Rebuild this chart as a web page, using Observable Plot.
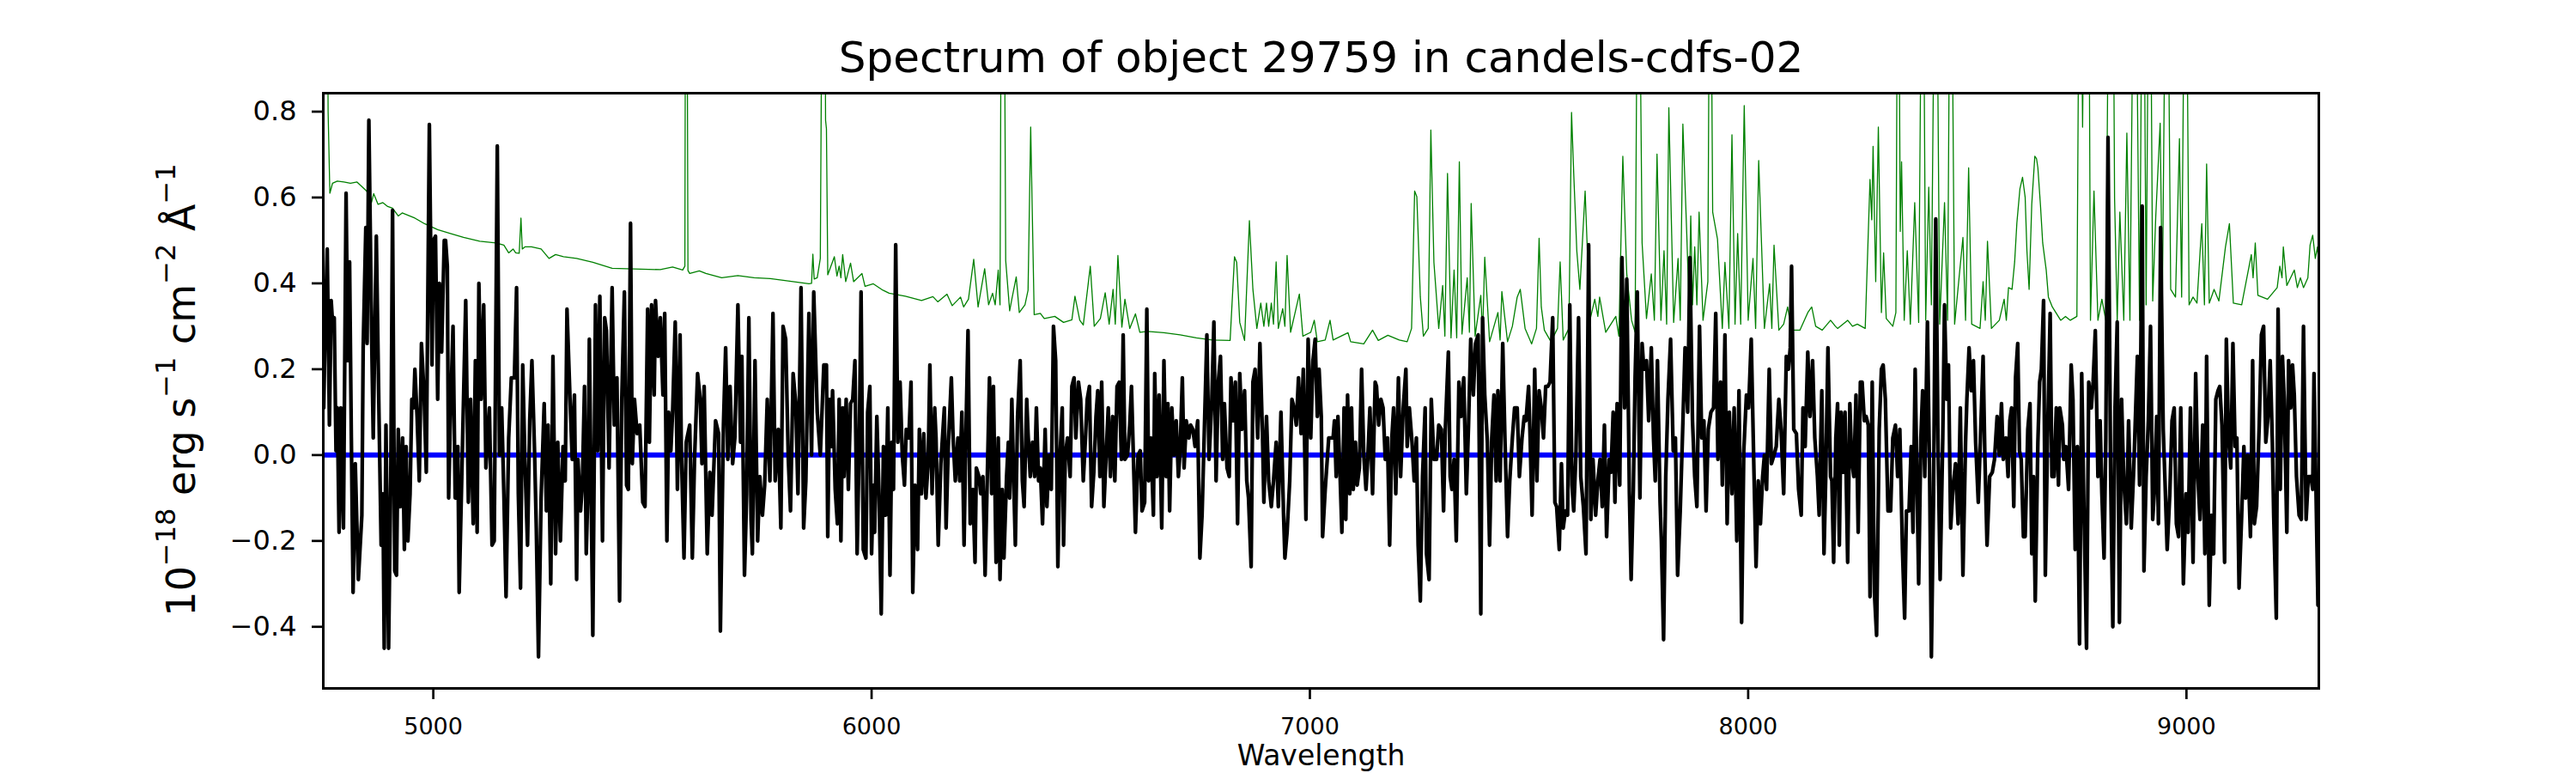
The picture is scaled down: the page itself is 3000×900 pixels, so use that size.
<!DOCTYPE html>
<html>
<head>
<meta charset="utf-8">
<script src="https://cdn.jsdelivr.net/npm/d3@7"></script>
<script src="https://cdn.jsdelivr.net/npm/@observablehq/plot@0.6"></script>
<style>
  html, body { margin: 0; padding: 0; background: #fff; }
  #chart svg { display: block; }
</style>
</head>
<body>
<div id="chart"></div>
<script>
const titleText = "Spectrum of object 29759 in candels-cdfs-02";
const xLabelText = "Wavelength";
// y label pieces: [text, isSuperscript]
const yLabelParts = [["10", false], ["\u221218", true], [" erg s", false], ["\u22121", true], [" cm", false], ["\u22122", true], [" \u00C5", false], ["\u22121", true]];
const xTicks = [5000, 6000, 7000, 8000, 9000];
const yTicks = [-0.4, -0.2, 0.0, 0.2, 0.4, 0.6, 0.8];
const xDomain = [4749, 9302];
const yDomain = [-0.5435, 0.843];
const zeroLevel = [0];

// flux (black)
const fluxWave = [
4750,4753,4758,4763,4767,4770,4774,4778,4781,4785,
4789,4795,4801,4805,4809,4813,4817,4822,4829,4837,
4840,4846,4849,4853,4859,4863,4870,4876,4881,4885,
4888,4892,4898,4903,4907,4912,4916,4920,4925,4930,
4934,4938,4942,4947,4951,4955,4958,4963,4968,4973,
4979,4984,4991,4997,5000,5005,5010,5014,5019,5025,
5028,5032,5035,5039,5045,5050,5056,5059,5065,5074,
5080,5085,5091,5096,5100,5104,5109,5115,5120,5128,
5134,5139,5146,5151,5156,5161,5166,5172,5178,5185,
5190,5194,5199,5204,5209,5215,5220,5225,5231,5235,
5240,5246,5253,5258,5262,5268,5273,5279,5284,5290,
5296,5301,5305,5312,5317,5322,5327,5330,5336,5340,
5345,5349,5353,5356,5364,5370,5375,5380,5386,5391,
5395,5401,5408,5413,5419,5425,5430,5436,5441,5445,
5450,5454,5459,5465,5471,5478,5483,5489,5493,5498,
5504,5507,5513,5518,5524,5528,5533,5537,5542,5546,
5552,5557,5563,5566,5572,5577,5585,5591,5596,5603,
5609,5613,5618,5625,5631,5636,5644,5651,5655,5662,
5667,5672,5677,5683,5688,5695,5701,5704,5710,5715,
5720,5725,5728,5734,5740,5745,5751,5756,5762,5768,
5775,5780,5787,5793,5798,5804,5810,5815,5821,5827,
5832,5839,5845,5850,5857,5863,5868,5876,5883,5891,
5897,5900,5904,5908,5911,5917,5922,5926,5930,5934,
5937,5942,5947,5952,5957,5962,5967,5972,5976,5981,
5987,5991,5996,6000,6004,6007,6012,6017,6022,6027,
6032,6037,6042,6046,6050,6055,6060,6065,6070,6075,
6079,6085,6090,6094,6099,6105,6109,6114,6119,6124,
6129,6133,6138,6144,6147,6152,6158,6166,6170,6175,
6182,6186,6191,6197,6201,6206,6211,6215,6220,6225,
6231,6236,6239,6245,6249,6254,6259,6264,6269,6274,
6278,6284,6289,6293,6298,6302,6308,6312,6315,6320,
6324,6328,6333,6339,6344,6348,6354,6357,6362,6367,
6372,6376,6381,6385,6390,6396,6400,6405,6410,6415,
6420,6425,6430,6435,6438,6442,6447,6453,6457,6462,
6466,6472,6477,6483,6488,6492,6497,6502,6507,6512,
6516,6521,6525,6530,6536,6540,6545,6550,6555,6560,
6565,6570,6574,6578,6584,6589,6593,6598,6602,6608,
6613,6617,6623,6628,6632,6637,6643,6646,6651,6656,
6662,6667,6672,6676,6680,6685,6690,6695,6700,6704,
6709,6713,6718,6724,6728,6733,6738,6744,6749,6754,
6759,6765,6770,6776,6781,6786,6791,6796,6801,6805,
6811,6816,6820,6825,6830,6835,6840,6845,6851,6856,
6860,6866,6870,6875,6881,6886,6892,6895,6901,6906,
6912,6917,6923,6928,6934,6940,6943,6948,6954,6959,
6964,6969,6974,6980,6985,6991,6996,7002,7007,7012,
7017,7021,7026,7029,7035,7043,
7053,7056,7060,7064,7069,7073,7078,7082,7086,7091,
7095,7099,7104,7108,7113,7118,7123,7128,7132,7137,
7143,7149,7152,7157,7162,7167,7172,7177,7182,7187,
7191,7196,7202,7207,7213,7219,7222,7227,7233,7238,
7243,7247,7252,7257,7263,7266,7272,7277,7283,7289,
7294,7300,7305,7309,7316,7320,7324,7329,7334,7340,
7345,7351,7357,7362,7367,7373,7378,7384,7390,7394,
7399,7405,7410,7415,7420,7425,7429,7434,7440,7445,
7451,7456,7462,7467,7473,7478,7484,7489,7493,7499,
7502,7507,7513,7518,7523,7528,7533,7538,7543,7548,
7554,7559,7563,7569,7574,7578,7583,7588,7593,7598,
7602,7607,7613,7618,7624,7630,7636,7641,7646,7652,
7657,7662,7667,7672,7677,7683,7687,7692,7696,7701,
7707,7712,7718,7723,7729,7733,7738,7742,7747,7753,
7758,7762,7768,7773,7779,7784,7788,7793,7799,7802,
7807,7812,7817,7823,7829,7834,7839,7845,7850,7856,
7862,7867,7873,7878,7883,7889,7894,7899,7904,7909,
7915,7921,7926,7931,7937,7941,7947,7952,7957,7963,
7968,7974,7979,7985,7990,7996,8001,8007,8013,8018,
8023,8028,8033,8037,8042,8048,8053,8059,8064,8070,
8075,8081,8087,8092,8096,8099,8104,8110,8115,8121,
8125,8130,8136,8141,8147,8152,8158,8162,8168,8173,
8177,8182,8188,8191,8195,8200,
8204,8208,8212,8217,8221,8227,8232,8236,8241,8246,
8251,8256,8260,8265,8269,8274,8278,8283,8288,8293,
8299,8304,8308,8313,8319,8325,8330,8336,8341,8346,
8352,8357,8361,8367,8372,8376,8381,8385,8389,8394,
8398,8403,8409,8414,8418,8423,8428,8433,8438,8444,
8448,8453,8457,8462,8467,8473,8479,8484,8490,8496,
8499,8504,8509,8514,8519,8525,8530,8536,8540,8545,
8551,8557,8562,8568,8573,8578,8582,8588,8593,8597,
8601,8606,8610,8615,8619,8623,8628,8632,8638,8643,
8647,8651,8655,8661,8665,8669,8674,8678,8683,8689,
8693,8698,8703,8708,8711,8717,8720,8725,8731,8737,
8741,8746,8751,8756,8761,8766,8772,8777,8783,8787,
8792,8798,8803,8807,8812,8816,8821,8827,8832,8837,
8842,8847,8852,8857,8863,8868,8874,8879,8882,8888,
8893,8899,8903,8908,8913,8918,8923,8927,8932,8936,
8941,8947,8951,8956,8962,8967,8972,8977,8982,8987,
8993,8999,9004,9009,9015,9021,9026,9031,9037,9042,
9046,9052,9057,9062,9067,9072,9076,9081,9087,9091,
9096,9101,9106,9111,9115,9120,9126,9131,9135,9140,
9146,9151,9155,9160,9166,9171,9176,9181,9186,9191,
9196,9199,9205,9209,9214,9219,9223,9229,9233,9238,
9242,9246,9251,9257,9262,9267,9273,9278,9284,9288,
9291,9300
];
const flux = [
0.11,0.28,0.48,0.07,0.36,0.31,0.32,0.01,0.11,-0.18,
0.11,-0.17,0.61,0.22,0.45,0.04,-0.32,-0.02,-0.29,-0.14,
0.25,0.53,0.26,0.78,0.30,0.04,0.51,0.10,-0.21,-0.09,
-0.45,0.07,-0.45,-0.05,0.57,-0.27,-0.28,0.06,-0.12,0.04,
-0.22,0.02,-0.20,-0.09,0.13,0.11,0.20,0.09,-0.06,0.26,
0.14,-0.04,0.77,0.21,0.50,0.51,0.13,0.40,0.24,0.50,
0.50,0.44,-0.10,0.09,0.30,-0.10,0.02,-0.32,-0.05,0.36,
-0.11,0.13,-0.16,0.22,-0.18,0.40,0.13,0.35,-0.03,0.11,
-0.21,-0.20,0.72,0.00,0.11,-0.09,-0.33,0.04,0.18,0.18,
0.39,-0.09,-0.31,0.21,-0.01,-0.21,0.08,0.22,0.01,-0.17,
-0.47,-0.10,0.12,-0.13,0.07,-0.30,0.23,-0.23,0.03,-0.20,
0.02,-0.06,0.34,0.13,-0.01,0.14,-0.29,-0.01,-0.13,-0.07,
0.16,-0.23,-0.07,0.27,-0.42,0.35,0.01,0.37,-0.20,0.32,
0.29,-0.03,0.39,0.07,0.18,-0.34,0.13,0.38,-0.07,-0.08,
0.54,-0.02,0.13,0.05,0.07,-0.11,-0.12,0.34,0.03,0.35,
0.14,0.36,0.23,0.32,0.14,0.33,-0.20,0.10,0.01,0.10,
0.31,-0.08,0.28,0.01,-0.24,0.03,0.07,-0.24,-0.01,0.19,
0.13,-0.02,0.16,-0.23,-0.04,-0.14,0.08,0.05,-0.41,0.07,
0.25,-0.01,0.16,-0.02,0.04,0.35,0.03,0.23,-0.28,-0.09,
0.32,-0.15,-0.23,0.22,-0.20,-0.05,-0.14,-0.07,0.13,-0.06,
0.33,-0.06,0.06,-0.17,0.30,0.27,-0.01,-0.13,0.19,0.12,
-0.09,0.39,-0.17,-0.06,0.33,0.00,0.38,0.10,0.00,0.21,
0.21,-0.19,0.13,0.02,0.15,-0.08,-0.16,0.13,-0.20,0.11,
-0.05,0.13,-0.08,0.12,0.13,0.22,-0.23,0.04,0.38,-0.22,
-0.24,0.10,0.16,-0.23,-0.07,-0.18,0.09,-0.09,-0.37,0.02,
-0.14,0.11,-0.28,0.03,-0.08,0.49,0.03,0.17,0.00,-0.07,
0.06,0.04,0.17,-0.32,-0.07,-0.22,0.06,-0.09,0.05,-0.10,
-0.02,0.21,-0.09,0.11,0.04,-0.21,-0.02,0.11,-0.17,0.02,
0.18,0.04,-0.06,0.04,-0.06,0.10,-0.21,0.04,0.29,-0.16,
-0.08,-0.25,-0.03,-0.05,-0.09,-0.05,-0.28,-0.05,0.18,-0.09,
0.16,-0.25,0.04,-0.29,-0.08,-0.24,-0.05,0.03,-0.10,0.13,
-0.05,-0.21,0.09,0.22,-0.06,-0.12,0.13,0.05,-0.05,0.03,
-0.05,0.11,-0.06,-0.03,-0.16,0.06,-0.12,0.00,-0.08,0.30,
0.22,-0.26,0.00,0.11,-0.21,0.00,0.04,-0.05,0.16,0.18,
0.04,0.17,0.13,-0.06,0.04,0.13,0.16,-0.12,-0.04,0.09,
0.15,-0.05,0.17,-0.12,0.02,0.11,-0.05,0.09,-0.06,0.16,
0.17,-0.01,0.28,-0.01,0.00,0.07,0.16,-0.03,-0.18,0.00,
0.01,-0.13,-0.11,0.34,-0.06,0.04,-0.14,0.19,-0.05,0.14,
-0.17,0.22,-0.05,0.12,-0.13,0.11,0.00,0.08,-0.05,0.01,
0.18,-0.03,0.08,0.04,0.07,0.06,0.02,0.08,-0.24,-0.14,
0.05,0.28,-0.01,0.12,0.31,-0.06,0.17,0.23,-0.01,0.12,
-0.03,-0.05,0.18,0.08,0.17,-0.16,0.19,0.06,0.15,-0.06,
-0.10,-0.26,0.17,0.20,0.04,0.26,0.04,-0.11,0.09,-0.06,
-0.12,-0.06,0.03,-0.12,0.10,-0.14,-0.24,-0.18,-0.06,0.13,
0.11,0.07,0.18,0.05,0.20,-0.15,0.27,0.04,0.22,0.27,
0.09,0.20,0.09,-0.19,-0.08,0.04,
0.04,0.08,-0.05,0.09,-0.05,-0.18,0.11,-0.15,0.14,-0.09,
0.11,-0.08,0.03,-0.07,-0.03,0.20,0.00,-0.08,-0.01,0.11,
-0.09,0.17,0.16,0.07,0.13,0.11,-0.01,0.04,-0.21,0.04,
0.11,-0.09,0.18,-0.05,0.11,0.20,0.02,0.11,0.03,-0.06,
0.04,-0.21,-0.34,-0.05,0.11,-0.23,-0.29,0.13,-0.01,-0.01,
0.07,0.06,-0.13,0.06,0.24,-0.05,-0.08,-0.01,-0.20,0.17,
0.09,0.18,-0.09,0.07,0.27,0.14,0.26,0.28,-0.37,0.32,
0.14,0.03,-0.21,0.04,0.14,-0.06,0.15,-0.06,0.26,0.04,
-0.19,-0.06,0.04,0.11,0.11,-0.05,0.04,0.09,0.08,0.16,
0.06,-0.14,0.20,-0.06,0.15,0.11,0.04,0.16,0.16,0.17,
0.32,-0.11,-0.12,-0.22,-0.02,-0.17,-0.13,-0.14,0.35,-0.07,
-0.13,0.00,0.32,-0.05,-0.12,-0.23,0.49,-0.15,-0.01,-0.14,
-0.06,-0.01,-0.12,0.07,-0.19,-0.01,-0.04,0.10,-0.11,0.12,
-0.07,0.46,0.11,0.41,-0.09,-0.29,-0.08,0.18,0.38,-0.10,
0.26,0.20,0.22,0.08,0.25,0.04,-0.06,0.22,-0.11,-0.20,
-0.43,-0.05,0.13,0.27,0.01,0.04,-0.28,-0.13,0.04,0.25,
0.10,0.46,0.08,-0.05,-0.12,0.30,0.04,0.08,-0.13,0.06,
0.10,0.11,0.33,-0.01,0.17,-0.07,0.28,-0.16,0.10,-0.09,
0.11,-0.20,0.15,-0.39,0.01,0.14,0.11,0.27,-0.03,-0.26,
-0.06,-0.16,-0.05,0.00,-0.08,0.20,-0.02,0.00,0.02,0.13,
0.06,-0.09,0.23,0.20,0.25,0.44,0.06,0.05,-0.08,-0.14,
0.11,0.02,0.24,0.09,0.22,0.04,-0.05,-0.14,0.15,-0.23,
-0.05,0.25,-0.05,-0.06,-0.25,0.04,
0.12,-0.21,0.10,-0.04,0.10,-0.25,0.12,-0.01,-0.05,0.14,
-0.18,0.17,0.17,0.08,0.09,0.07,-0.33,0.17,-0.32,-0.42,
0.06,0.20,0.21,0.13,-0.13,-0.13,0.04,0.07,-0.05,0.06,
-0.22,-0.38,-0.13,-0.13,0.02,-0.18,0.20,-0.05,-0.30,0.04,
0.15,-0.05,0.31,-0.05,-0.47,-0.09,0.55,0.04,-0.29,0.04,
0.35,0.13,0.21,-0.17,-0.08,-0.02,-0.16,0.11,-0.28,0.03,
0.13,0.25,0.15,0.22,0.03,-0.11,0.04,0.23,0.00,-0.21,
-0.05,-0.04,-0.01,0.09,0.00,0.12,-0.01,0.04,-0.05,0.08,
0.11,-0.12,0.18,0.26,0.01,-0.01,-0.19,-0.19,0.06,0.12,
-0.23,-0.05,-0.34,0.03,0.17,0.20,0.36,-0.28,0.04,0.33,
-0.05,-0.05,0.11,-0.07,0.11,0.07,-0.01,0.02,-0.08,0.21,
0.13,-0.22,0.02,-0.44,0.19,-0.12,-0.45,0.17,0.11,0.17,
0.29,-0.05,0.08,-0.09,-0.24,0.04,0.74,-0.05,-0.40,0.11,
0.31,-0.39,0.13,-0.06,-0.16,0.08,-0.17,-0.05,0.04,0.23,
-0.07,0.58,-0.27,-0.05,0.08,0.30,-0.15,-0.08,0.09,-0.16,
0.53,0.06,-0.06,-0.22,-0.09,0.08,0.11,-0.16,-0.19,0.11,
-0.30,-0.09,-0.18,0.11,-0.25,0.19,-0.05,-0.15,0.07,-0.23,
0.23,-0.35,-0.14,-0.23,0.13,0.15,0.16,0.07,-0.25,0.27,
0.04,-0.03,0.26,0.02,0.04,-0.31,-0.14,0.02,-0.10,0.00,
-0.19,0.22,-0.16,-0.12,0.07,0.28,0.30,0.03,0.09,0.22,
0.03,-0.14,-0.38,0.34,-0.08,0.23,0.13,-0.18,0.22,0.11,
0.21,0.14,-0.05,-0.14,-0.15,0.30,-0.15,-0.05,-0.05,-0.08,
0.19,-0.35
];

// noise / sky spectrum (green); values above the frame are cut by the axes
const noiseWave = [
4749,4756,4760,4764,4770,4781,4796,4811,4826,4848,
4859,4864,4874,4885,4896,4907,4920,4929,4958,4980,
5010,5039,5069,5106,5143,5161,5172,5182,5188,5196,
5200,5203,5209,5224,5246,5264,5279,5297,5327,5364,
5408,5474,5518,5546,5569,5574,5576,5578,5581,5585,
5607,5622,5658,5695,5732,5769,5806,5857,5863,5866,
5869,5876,5883,5889,
5892,5895,5897,5900,5915,5921,5926,5930,5934,5941,
5952,5959,5978,5985,6004,6026,6040,6077,6114,6140,
6151,6172,6184,6203,6210,6221,6233,6243,6258,6267,
6276,6282,6289,6293,6297,6301,6306,6315,6320,6330,
6337,6350,6357,6363,6371,6385,6394,6418,6438,6457,
6464,6475,6483,6499,6508,6522,6533,6542,6551,6556,
6562,6571,6578,6589,6602,6612,6630,6667,6704,6741,
6777,6818,6828,6833,6840,6851,6862,6870,6879,6888,
6895,6901,6906,6912,6917,6923,6928,6938,6943,6948,
6956,6976,6984,7002,7010,7017,7035,7046,
7053,7071,7087,7093,7123,7143,7156,7178,7204,7222,
7232,7239,7244,7252,7259,7270,7276,7283,7294,7303,
7308,7314,7322,7329,7335,7341,7347,7359,7364,7368,
7377,7390,7394,7399,7410,7429,7434,7438,7451,7462,
7473,7480,7491,7506,7517,7523,7528,7535,7550,7565,
7571,7578,7591,7597,7602,7609,7616,7628,7639,7650,
7657,7661,7675,7698,7705,7714,7723,7734,7742,7749,
7758,7768,7779,7786,7792,7801,7808,7814,7819,7830,
7840,7845,7851,7860,7865,7869,7873,7878,7883,7888,
7897,7908,7913,7919,7930,7941,7947,7956,7963,7970,
7976,7983,7991,8000,8011,8017,8024,8037,8049,8054,
8059,8070,8081,8090,8099,8118,8136,8145,8154,8169,
8188,8199,
8204,8227,8238,8249,8267,8278,8282,8285,8291,8297,
8304,8309,8315,8330,8337,8342,8347,8350,8356,8363,
8370,8380,8389,8398,8405,8412,8418,8428,8437,8448,
8455,8462,8471,8490,8496,8503,8510,8529,8536,8541,
8546,8555,8573,8584,8589,8594,8602,8608,8613,8620,
8626,8632,8636,8641,8647,8654,8658,8661,8667,8672,
8680,8685,8694,8713,8724,8735,8750,8757,8763,8769,
8776,8781,8789,8798,8807,8816,8825,8831,8836,8842,
8848,8857,8864,8871,8882,8893,8901,8908,8916,8923,
8930,8940,8945,8955,8964,8975,8984,8989,8998,9006,
9015,9024,9035,9041,9046,9052,9063,9074,9089,9098,
9107,9126,9148,9152,9157,9163,9185,9207,9213,9218,
9221,9229,9246,9253,9260,9267,9277,9282,9288,9294,
9299,9302
];
const noise = [
1.5,1.5,0.8,0.61,0.633,0.638,0.636,0.633,0.636,0.615,
0.588,0.609,0.584,0.588,0.579,0.575,0.557,0.564,0.552,0.539,
0.525,0.516,0.507,0.498,0.494,0.489,0.471,0.48,0.471,0.47,
0.552,0.48,0.485,0.485,0.48,0.458,0.467,0.462,0.458,0.449,
0.435,0.433,0.432,0.438,0.431,0.44,1.5,1.5,0.43,0.423,
0.429,0.423,0.413,0.418,0.413,0.411,0.406,0.399,0.40,0.468,
0.41,0.413,0.458,1.5,
1.5,0.78,0.76,0.42,0.462,0.417,0.44,0.413,0.467,0.404,
0.447,0.404,0.423,0.393,0.399,0.384,0.377,0.37,0.36,0.369,
0.357,0.375,0.348,0.368,0.345,0.363,0.456,0.345,0.434,0.35,
0.377,0.35,0.431,0.35,1.5,1.5,0.453,0.336,0.363,0.415,
0.332,0.35,0.384,0.764,0.327,0.33,0.318,0.323,0.309,0.315,
0.37,0.314,0.303,0.44,0.3,0.318,0.378,0.305,0.386,0.305,
0.465,0.298,0.363,0.295,0.329,0.286,0.288,0.285,0.28,0.273,
0.268,0.267,0.462,0.449,0.309,0.267,0.546,0.386,0.295,0.354,
0.3,0.354,0.3,0.354,0.305,0.45,0.295,0.341,0.3,0.465,
0.286,0.375,0.277,0.286,0.314,0.264,0.268,0.314,
0.268,0.277,0.285,0.264,0.259,0.291,0.267,0.279,0.268,0.264,
0.295,0.615,0.602,0.368,0.277,0.295,0.757,0.449,0.295,0.395,
0.277,0.656,0.273,0.431,0.273,0.683,0.282,0.413,0.286,0.586,
0.277,0.372,0.277,0.461,0.264,0.332,0.268,0.381,0.264,0.3,
0.368,0.386,0.295,0.259,0.295,0.505,0.345,0.291,0.264,0.295,
0.45,0.268,0.295,0.798,0.656,0.476,0.386,0.615,0.314,0.363,
0.323,0.368,0.286,0.323,0.277,0.696,0.422,0.314,0.286,1.5,
0.494,0.318,0.422,0.314,0.701,0.314,0.476,0.305,0.809,0.309,
0.458,0.314,0.771,0.512,0.35,0.557,0.35,0.485,0.35,0.566,
0.314,0.404,1.5,0.566,0.503,0.295,0.449,0.295,0.746,0.305,
0.516,0.305,0.814,0.314,0.458,0.295,0.686,0.295,0.399,0.295,
0.489,0.291,0.305,0.345,0.291,0.291,0.332,0.345,0.3,0.291,
0.314,0.3,
0.295,0.314,0.3,0.305,0.295,0.642,0.548,0.719,0.404,0.764,
0.332,0.471,0.318,0.3,0.332,1.5,0.521,0.683,0.314,0.476,
0.305,0.588,0.309,1.5,0.314,0.624,0.35,1.5,0.305,0.588,
0.314,1.5,0.305,0.507,0.314,0.669,0.305,0.295,0.404,0.314,
0.498,0.295,0.314,0.363,0.314,0.39,0.386,0.45,0.54,0.62,
0.647,0.60,0.476,0.386,0.584,0.696,0.69,0.669,0.58,0.494,
0.431,0.368,0.345,0.314,0.323,0.314,0.323,1.5,0.764,1.5,
1.5,0.314,0.615,0.314,0.363,0.314,1.5,1.5,0.597,0.314,
0.566,0.314,0.75,0.314,1.5,0.314,1.5,0.35,1.5,0.359,
0.557,0.773,0.359,1.5,0.386,0.368,0.737,0.368,1.5,0.35,
0.368,0.354,0.539,0.35,0.678,0.354,0.386,0.359,0.485,0.539,
0.354,0.35,0.467,0.413,0.494,0.372,0.363,0.39,0.44,0.413,
0.485,0.395,0.431,0.39,0.413,0.39,0.413,0.489,0.512,0.458,
0.485,0.44
];

const fluxData = fluxWave.slice(0, Math.min(fluxWave.length, flux.length)).map((w, i) => ({w, v: flux[i]}));
const noiseData = noiseWave.slice(0, Math.min(noiseWave.length, noise.length)).map((w, i) => ({w, v: noise[i]}));

const svg = Plot.plot({
  width: 3000,
  height: 900,
  marginLeft: 376,
  marginRight: 300,
  marginTop: 108,
  marginBottom: 99,
  style: {fontFamily: "DejaVu Sans", background: "white", color: "black"},
  x: {domain: xDomain},
  y: {domain: yDomain},
  marks: [
    Plot.line(noiseData, {x: "w", y: "v", stroke: "green", strokeWidth: 1.3, clip: true}),
    Plot.ruleY(zeroLevel, {stroke: "blue", strokeWidth: 6}),
    Plot.line(fluxData, {x: "w", y: "v", stroke: "black", strokeWidth: 4.3, strokeLinejoin: "round", clip: true}),
    Plot.axisX({ticks: xTicks, tickFormat: "d", tickSize: 13, tickPadding: 21, fontSize: 27, strokeWidth: 2.7, label: null}),
    Plot.axisY({ticks: yTicks, tickFormat: ".1f", tickSize: 13, tickPadding: 18, fontSize: 32, strokeWidth: 2.7, label: null}),
    Plot.text([titleText], {text: d => d, frameAnchor: "top", dy: -41, fontSize: 50, lineAnchor: "middle"}),
    Plot.text([xLabelText], {text: d => d, frameAnchor: "bottom", dy: 79, fontSize: 33, lineAnchor: "middle"}),
    Plot.frame({stroke: "black", strokeWidth: 3})
  ]
});

// rotated y-axis label with superscripts
const yl = d3.select(svg).append("text")
  .attr("transform", "translate(227,454) rotate(-90)")
  .attr("text-anchor", "middle")
  .attr("font-family", "DejaVu Sans")
  .attr("fill", "black")
  .attr("font-size", 46)
  .style("white-space", "pre");
let prevSup = false;
for (const [txt, sup] of yLabelParts) {
  const ts = yl.append("tspan").attr("font-size", sup ? 32 : 46).text(txt);
  if (sup && !prevSup) ts.attr("dy", -23);
  else if (!sup && prevSup) ts.attr("dy", 23);
  prevSup = sup;
}

document.getElementById("chart").appendChild(svg);
</script>
</body>
</html>
